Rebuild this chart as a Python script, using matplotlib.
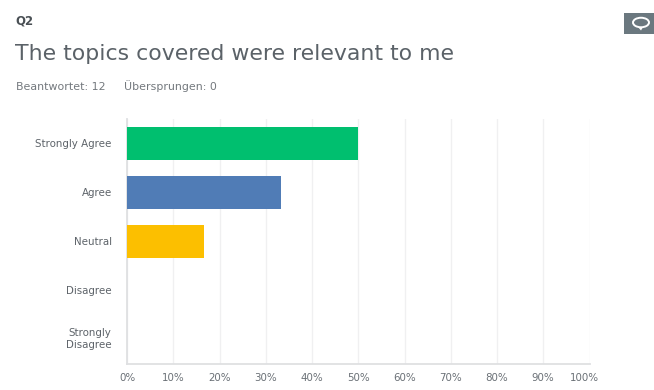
import matplotlib
matplotlib.use('Agg')
import matplotlib.pyplot as plt
from matplotlib.patches import Ellipse, Polygon, Rectangle
from matplotlib.transforms import ScaledTranslation

W, H = 654, 390

answers = ['Strongly Agree', 'Agree', 'Neutral', 'Disagree', 'Strongly\nDisagree']
percents = [50.0, 33.33, 16.67, 0.0, 0.0]
bar_colors = ['#00bf6f', '#507cb6', '#fcbf00', '#6bc8cd', '#7d5e90']
tick_values = list(range(0, 101, 10))
tick_labels = [f'{v}%' for v in tick_values]

plt.rcParams['font.family'] = ['DejaVu Sans']

fig = plt.figure(figsize=(W / 100, H / 100), dpi=100, facecolor='white')


def px_text(x, y, s, va='center', **kw):
    fig.text(x / W, 1 - y / H, s, va=va, **kw)


px_text(15, 21, 'Q2', fontsize=8.5, fontweight='bold', color='#4a5055')
px_text(15, 54, 'The topics covered were relevant to me', fontsize=15.8, color='#5b6268')
px_text(16, 89.5, 'Beantwortet: 12', va='baseline', fontsize=7.9, color='#74797e')
px_text(124, 89.5, 'Übersprungen: 0', va='baseline', fontsize=7.9, color='#74797e')

# plot area
ax = fig.add_axes([127 / W, 1 - 363.5 / H, (589.5 - 127) / W, (363.5 - 119) / H])
ypos = list(range(len(answers)))
ax.barh(ypos, percents, height=0.685, color=bar_colors, zorder=3)
ax.set_xlim(0, 100)
ax.set_ylim(len(answers) - 0.5, -0.5)

ax.set_xticks(tick_values)
ax.set_xticklabels(tick_labels, fontsize=7.4, color='#6a7076')
ax.set_yticks(ypos)
ax.set_yticklabels(answers, fontsize=7.4, color='#5d6369', linespacing=1.3)
ax.tick_params(axis='both', length=0)
ax.tick_params(axis='x', pad=7)
ax.tick_params(axis='y', pad=11)

# the last tick label is pulled in so it stays close to the plot edge
last_label = ax.get_xticklabels()[-1]
last_label.set_transform(last_label.get_transform()
                         + ScaledTranslation(-5 / 100, 0, fig.dpi_scale_trans))

# the two-line answer sits a little above its row centre
wrapped_label = ax.get_yticklabels()[-1]
wrapped_label.set_transform(wrapped_label.get_transform()
                            + ScaledTranslation(0, 2 / 100, fig.dpi_scale_trans))

ax.grid(axis='x', color='#f0f0f1', linewidth=1, zorder=0)
for side in ('top', 'right'):
    ax.spines[side].set_visible(False)
for side in ('left', 'bottom'):
    ax.spines[side].set_color('#dfe0e2')
    ax.spines[side].set_linewidth(1.3)

# comment button in the top right corner
overlay = fig.add_axes([0, 0, 1, 1], facecolor='none')
overlay.set_xlim(0, W)
overlay.set_ylim(H, 0)
overlay.axis('off')
overlay.add_patch(Rectangle((624, 13), 30, 21, color='#6b787f', lw=0))
overlay.add_patch(Polygon([(638, 27), (643, 27), (641, 30.5)], color='white', lw=0))
overlay.add_patch(Ellipse((641, 22.5), 16, 9.5, fc='none', ec='white', lw=1.4))

fig.savefig('out.png', dpi=100)
plt.close(fig)
